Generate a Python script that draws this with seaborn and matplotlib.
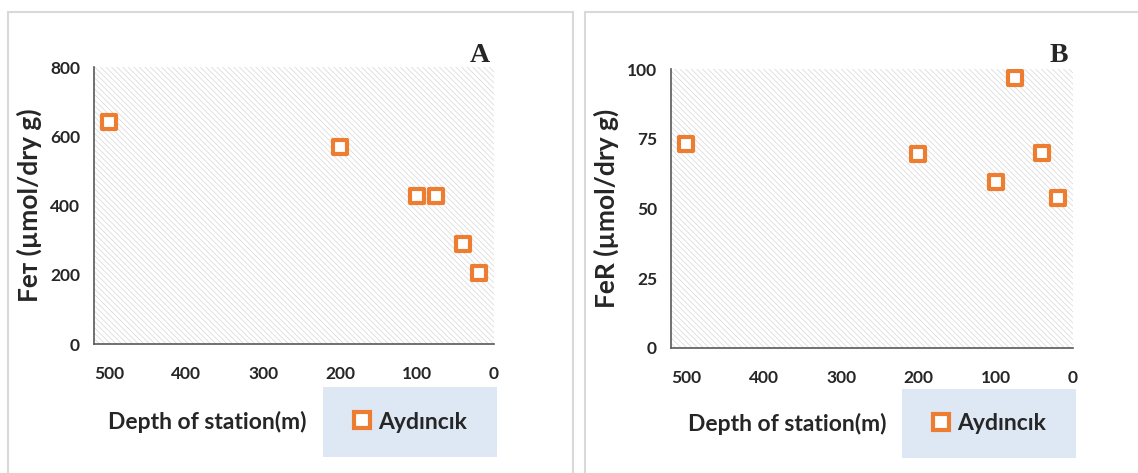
import pandas as pd
import matplotlib.pyplot as plt
import matplotlib.patches as mpatches
from matplotlib.lines import Line2D
import seaborn as sns

# data
depth_a = [500, 200, 100, 75, 40, 20]
fe_total = [642, 570, 427, 427, 288, 206]

depth_b = [500, 200, 100, 75, 40, 20]
fe_reactive = [73, 69.6, 59.4, 97, 69.8, 53.7]

station = "Aydıncık"
ORANGE = "#ED7D31"

sns.set_style("white")
plt.rcParams["font.family"] = ["Lato", "DejaVu Sans"]
plt.rcParams["font.weight"] = "bold"
plt.rcParams["hatch.linewidth"] = 0.5

df_a = pd.DataFrame({"depth": depth_a, "value": fe_total})
df_b = pd.DataFrame({"depth": depth_b, "value": fe_reactive})

fig = plt.figure(figsize=(11.38, 4.73), dpi=100)

# panel frames
for x0, w in [(8 / 1138, 565 / 1138), (585 / 1138, 560 / 1138)]:
    fig.patches.append(mpatches.Rectangle(
        (x0, -0.05), w, 1.05 - 12 / 473, transform=fig.transFigure,
        fill=False, edgecolor="#d9d9d9", linewidth=1.5))

panels = [
    dict(df=df_a, rect=[94 / 1138, 129 / 473, 400 / 1138, 277 / 473],
         ylim=(0, 800), yticks=[0, 200, 400, 600, 800],
         ylabel="Feᴛ (µmol/dry g)", letter="A", letter_x=480,
         legend_rect=(323, 387, 174, 70)),
    dict(df=df_b, rect=[671 / 1138, 125.3 / 473, 402 / 1138, 278.4 / 473],
         ylim=(0, 100), yticks=[0, 25, 50, 75, 100],
         ylabel="FeR (µmol/dry g)", letter="B", letter_x=1059,
         legend_rect=(902, 389, 174, 69)),
]

for p in panels:
    ax = fig.add_axes(p["rect"])
    ax.add_patch(mpatches.Rectangle(
        (0, 0), 1, 1, transform=ax.transAxes, facecolor="white",
        hatch="\\" * 6, edgecolor="#d6d6d6", linewidth=0, zorder=0))

    sns.scatterplot(data=p["df"], x="depth", y="value", ax=ax, marker="s",
                    s=95, facecolor="white", edgecolor=ORANGE, linewidth=3,
                    zorder=3, legend=False)

    ax.set_xlim(520, 0)
    ax.set_ylim(*p["ylim"])
    ax.set_xticks([500, 400, 300, 200, 100, 0])
    ax.set_yticks(p["yticks"])
    ax.tick_params(axis="both", direction="in", length=5, width=1,
                   color="#595959", labelsize=12.5)
    ax.tick_params(axis="x", pad=16)
    ax.tick_params(axis="y", pad=10)
    for lab in ax.get_xticklabels() + ax.get_yticklabels():
        lab.set_fontweight("bold")

    for side in ["top", "right"]:
        ax.spines[side].set_visible(False)
    for side in ["left", "bottom"]:
        ax.spines[side].set_color("#595959")
        ax.spines[side].set_linewidth(1.2)

    ax.set_xlabel("")
    ax.set_ylabel(p["ylabel"], fontsize=19, fontweight="bold", labelpad=6)

    fig.text(p["letter_x"] / 1138, 1 - 62 / 473, p["letter"],
             family="Liberation Serif", fontweight="bold", fontsize=20,
             ha="center", va="baseline")

    # x axis title and legend box below the axes
    lx, ly, lw, lh = p["legend_rect"]
    fig.text((lx - 16) / 1138, 1 - (ly + lh / 2) / 473, "Depth of station(m)",
             fontsize=16.5, fontweight="bold", ha="right", va="center")
    fig.patches.append(mpatches.Rectangle(
        (lx / 1138, 1 - (ly + lh) / 473), lw / 1138, lh / 473,
        transform=fig.transFigure, facecolor="#dee8f4", edgecolor="none"))
    handle = Line2D([], [], marker="s", linestyle="none", markersize=12,
                    markerfacecolor="white", markeredgecolor=ORANGE,
                    markeredgewidth=3)
    fig.legend([handle], [station], loc="center",
               bbox_to_anchor=((lx + lw / 2) / 1138, 1 - (ly + lh / 2) / 473),
               frameon=False, prop=dict(size=16.5, weight="bold"),
               handlelength=0.8, handletextpad=0.3)

fig.savefig("out.png", dpi=100)
